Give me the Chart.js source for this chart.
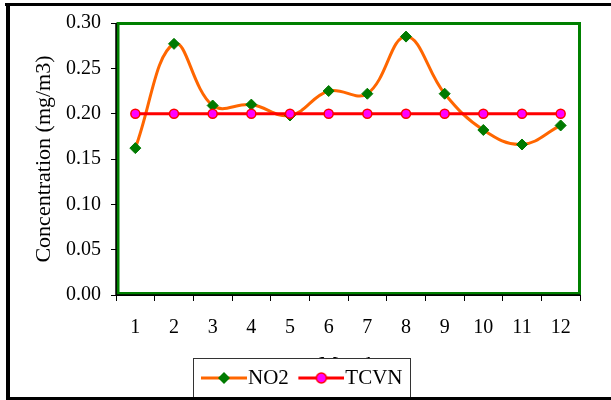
<!DOCTYPE html>
<html>
<head>
<meta charset="utf-8">
<script src="https://cdn.jsdelivr.net/npm/chart.js@4.4.1/dist/chart.umd.min.js"></script>
<style>
  html, body { margin: 0; padding: 0; background: #fff; }
  #wrap { width: 611px; height: 400px; }
</style>
</head>
<body>
<div id="wrap"><canvas id="chart" width="611" height="400"></canvas></div>
<script>
// Dados
const meses = ["1", "2", "3", "4", "5", "6", "7", "8", "9", "10", "11", "12"];
const no2 = [0.162, 0.277, 0.209, 0.210, 0.198, 0.225, 0.222, 0.285, 0.222, 0.182, 0.166, 0.187];
const tcvn = [0.20, 0.20, 0.20, 0.20, 0.20, 0.20, 0.20, 0.20, 0.20, 0.20, 0.20, 0.20];
const ticksY = [0, 0.05, 0.10, 0.15, 0.20, 0.25, 0.30];

const laranja = "#ff6600";
const verde = "#007a00";
const vermelho = "#ff0000";
const magenta = "#ff00ff";

Chart.defaults.font.family = "'Liberation Serif', 'Times New Roman', serif";
Chart.defaults.font.size = 20;
Chart.defaults.color = "#000";

// Ícone da legenda: linha com marcador no meio
function iconeLegenda(corLinha, marcador) {
  const c = document.createElement("canvas");
  c.width = 55;
  c.height = 16;
  const g = c.getContext("2d");
  g.strokeStyle = corLinha;
  g.lineWidth = 3;
  g.beginPath();
  g.moveTo(9, 8);
  g.lineTo(55, 8);
  g.stroke();
  marcador(g, 32, 8);
  return c;
}

const iconeNO2 = iconeLegenda(laranja, (g, x, y) => {
  g.fillStyle = verde;
  g.beginPath();
  g.moveTo(x, y - 6);
  g.lineTo(x + 6, y);
  g.lineTo(x, y + 6);
  g.lineTo(x - 6, y);
  g.closePath();
  g.fill();
});

const iconeTCVN = iconeLegenda(vermelho, (g, x, y) => {
  g.fillStyle = magenta;
  g.strokeStyle = vermelho;
  g.lineWidth = 1.5;
  g.beginPath();
  g.arc(x, y, 5, 0, Math.PI * 2);
  g.fill();
  g.stroke();
});

// Moldura verde da área do gráfico, caixa da legenda e borda externa
const molduras = {
  id: "molduras",
  beforeDraw(chart) {
    const ctx = chart.ctx;
    ctx.save();
    ctx.fillStyle = "#fff";
    ctx.fillRect(0, 0, chart.width, chart.height);
    ctx.restore();
  },
  beforeDatasetsDraw(chart) {
    const { ctx, chartArea: a } = chart;
    ctx.save();
    ctx.strokeStyle = "#008000";
    ctx.lineWidth = 3;
    ctx.strokeRect(a.left + 2, a.top + 0.5, a.right - a.left - 2.5, a.bottom - a.top - 2);
    ctx.strokeStyle = "#000";
    ctx.lineWidth = 1.5;
    ctx.beginPath();
    ctx.moveTo(a.left, a.top);
    ctx.lineTo(a.left, a.bottom);
    ctx.lineTo(a.right, a.bottom);
    ctx.stroke();
    ctx.restore();
  },
  afterDraw(chart) {
    const ctx = chart.ctx;
    const leg = chart.legend;
    const caixas = leg.legendHitBoxes;
    const ultima = caixas[caixas.length - 1];
    const x0 = Math.round(caixas[0].left - 8.5);
    const x1 = Math.round(ultima.left + ultima.width + 7.5);
    const y0 = 358;
    ctx.save();
    ctx.fillStyle = "#fff";
    ctx.fillRect(x0, y0, x1 - x0, 40);
    ctx.strokeStyle = "#333";
    ctx.lineWidth = 1;
    ctx.strokeRect(x0 + 0.5, y0 + 0.5, x1 - x0, 40);
    ctx.restore();
    leg.draw();

    ctx.save();
    ctx.fillStyle = "#000";
    ctx.fillRect(5, 3, chart.width - 5, 3);
    ctx.fillRect(6, 3, 4, chart.height - 3);
    ctx.fillRect(6, 397, chart.width - 6, 3);
    ctx.restore();
  }
};

new Chart(document.getElementById("chart"), {
  type: "line",
  data: {
    labels: meses,
    datasets: [
      {
        label: "NO2",
        data: no2,
        order: 1,
        borderColor: laranja,
        borderWidth: 3,
        tension: 0.4,
        pointStyle: "rectRot",
        pointRadius: 5.5,
        pointBackgroundColor: verde,
        pointBorderColor: verde,
        pointBorderWidth: 1
      },
      {
        label: "TCVN",
        data: tcvn,
        order: 0,
        borderColor: vermelho,
        borderWidth: 3,
        tension: 0,
        pointStyle: "circle",
        pointRadius: 4.5,
        pointBackgroundColor: magenta,
        pointBorderColor: vermelho,
        pointBorderWidth: 1.5
      }
    ]
  },
  options: {
    responsive: false,
    animation: false,
    layout: { padding: { left: 24, right: 31, top: 23, bottom: 1.5 } },
    plugins: {
      tooltip: { enabled: false },
      legend: {
        position: "bottom",
        labels: {
          usePointStyle: true,
          pointStyleWidth: 36,
          padding: 10,
          font: { size: 21 },
          generateLabels: () => [
            { text: "NO2", pointStyle: iconeNO2, fillStyle: "transparent", strokeStyle: "transparent", lineWidth: 0, hidden: false, datasetIndex: 0, fontColor: "#000" },
            { text: "TCVN", pointStyle: iconeTCVN, fillStyle: "transparent", strokeStyle: "transparent", lineWidth: 0, hidden: false, datasetIndex: 1, fontColor: "#000" }
          ]
        }
      }
    },
    scales: {
      x: {
        offset: true,
        grid: { offset: true, drawOnChartArea: false, tickLength: 6, color: "#000" },
        border: { color: "#000", width: 1 },
        ticks: { padding: 15, maxRotation: 0, autoSkip: false },
        title: { display: true, text: "Month", font: { size: 22 }, padding: { top: 0, bottom: -21 } },
        afterFit: s => { s.height = 62.5; }
      },
      y: {
        min: 0,
        max: 0.3,
        afterBuildTicks: s => { s.ticks = ticksY.map(v => ({ value: v })); },
        grid: { drawOnChartArea: false, tickLength: 5, color: "#000" },
        border: { color: "#000", width: 1 },
        ticks: { padding: 10, callback: v => v.toFixed(2) },
        title: { display: true, text: "Concentration (mg/m3)", font: { size: 22 }, padding: { top: 6.8, bottom: 0 } },
        afterFit: s => { s.width = 92; }
      }
    }
  },
  plugins: [molduras]
});
</script>
</body>
</html>
